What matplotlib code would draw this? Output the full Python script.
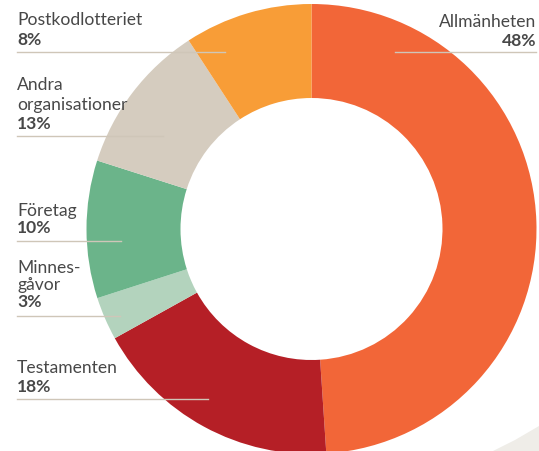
import matplotlib
matplotlib.use("Agg")
import matplotlib.pyplot as plt
from matplotlib.patches import Polygon

# wedge sizes (clockwise from the top)
categories = ["Allmänheten", "Testamenten", "Minnesgåvor", "Företag",
              "Andra organisationer", "Postkodlotteriet"]
values = [49.0, 18.0, 3.1, 9.9, 10.9, 9.2]
colors = ["#F26638", "#B51F26", "#B3D3BD", "#6BB48A", "#D5CCBF", "#F89D37"]

# label texts as printed
label_lines = [["Allmänheten"], ["Testamenten"], ["Minnes-", "gåvor"], ["Företag"],
               ["Andra", "organisationer"], ["Postkodlotteriet"]]
pct_labels = ["48%", "18%", "3%", "10%", "13%", "8%"]

W, H = 539, 451
fig = plt.figure(figsize=(W / 100, H / 100), dpi=100)
ax = fig.add_axes([0, 0, 1, 1])

# light decorative shape bottom right
ax.add_patch(Polygon([(493, 0), (539, 0), (539, H - 426), (515, H - 440)],
                     closed=True, color="#EFEDE8", lw=0, zorder=0))

cx, cy, R = 311.5, H - 229, 225
ax.pie(values, colors=colors, startangle=90, counterclock=False,
       center=(cx, cy), radius=R, wedgeprops=dict(width=R - 131, linewidth=0))

txt = "#484848"
fs = 12.6
fam = ["Lato", "DejaVu Sans"]
line_col = "#CFC6B8"

# (x, baselines for name lines, baseline for pct, leader y, leader x0, x1, align)
layout = [
    (536, [27], 46, 52, 395, 536, "right"),
    (17, [373], 392, 399, 17, 208, "left"),
    (17, [273, 290], 307, 316, 17, 120, "left"),
    (17, [216], 233, 241, 17, 121, "left"),
    (17, [90, 110], 129, 136, 17, 163, "left"),
    (17, [25], 45, 52, 17, 225, "left"),
]

for lines, pct, (x, ys, yp, yl, x0, x1, ha) in zip(label_lines, pct_labels, layout):
    for s, y in zip(lines, ys):
        ax.text(x, H - y, s, ha=ha, va="baseline", fontsize=fs, color=txt, family=fam)
    ax.text(x, H - yp, pct, ha=ha, va="baseline", fontsize=fs, color=txt,
            family=fam, fontweight="bold")
    ax.plot([x0, x1], [H - yl, H - yl], color=line_col, lw=1, zorder=5)

ax.set_xlim(0, W)
ax.set_ylim(0, H)
ax.axis("off")
fig.savefig("out.png", dpi=100)
